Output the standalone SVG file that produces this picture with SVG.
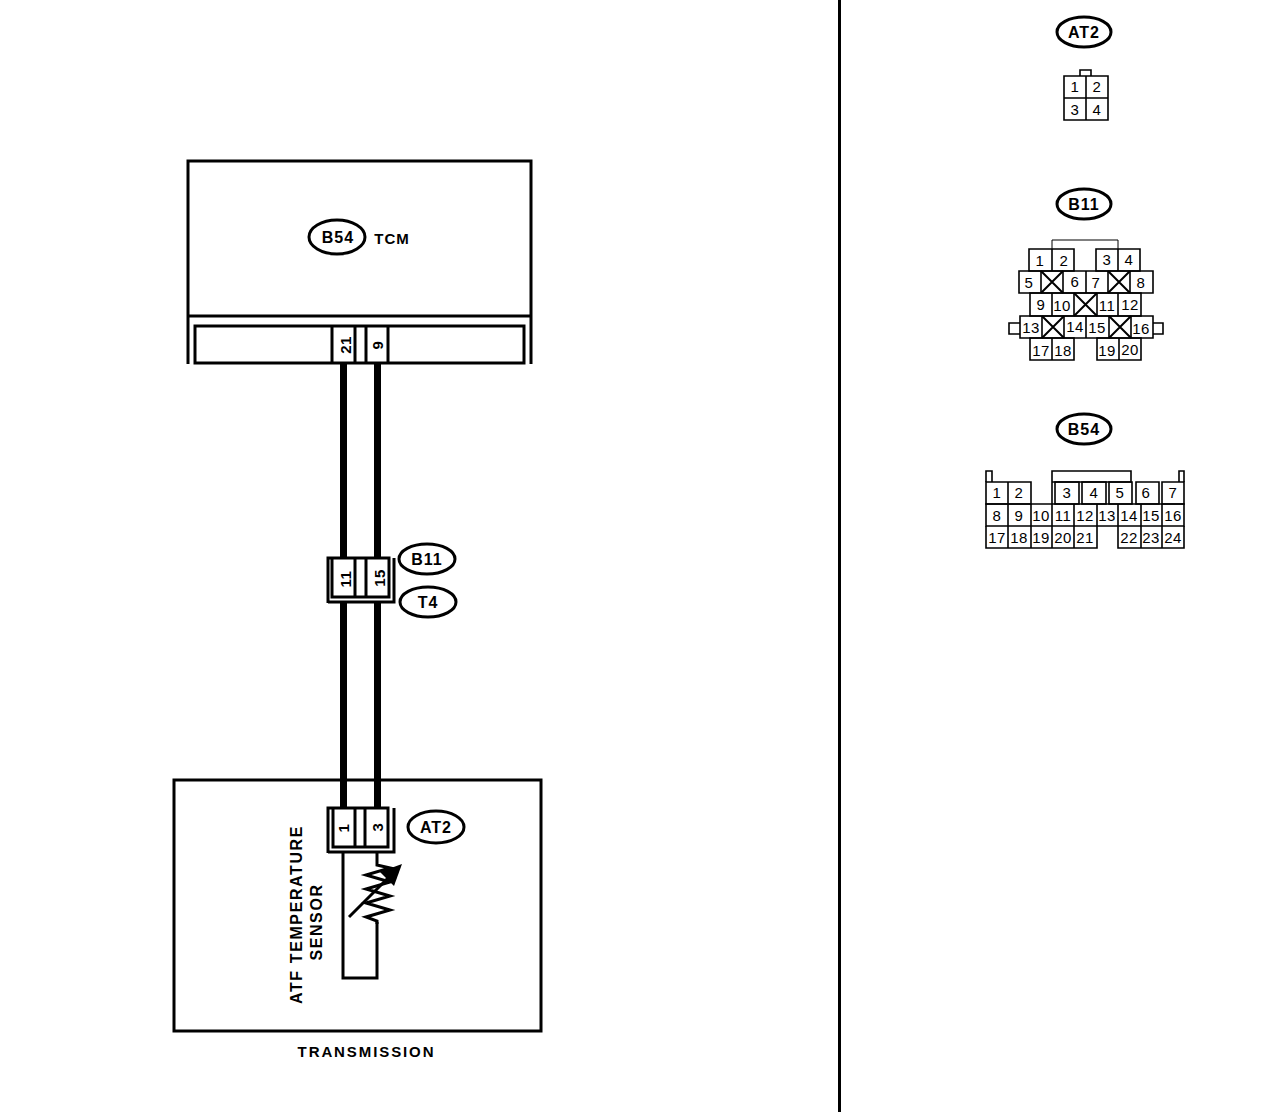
<svg xmlns="http://www.w3.org/2000/svg" width="1264" height="1112" viewBox="0 0 1264 1112">
<style>
text{font-family:"Liberation Sans",Arial,sans-serif;fill:#000;text-anchor:middle}
.f{fill:none;stroke:#000;stroke-width:3}
.h{fill:none;stroke:#000;stroke-width:1}
.e{fill:#fff;stroke:#000;stroke-width:3}
.w{fill:none;stroke:#000;stroke-width:7}
.l{font-size:16px;font-weight:bold;letter-spacing:1px}
.n{font-size:15px;letter-spacing:.5px}
.p{font-size:15px;font-weight:bold;letter-spacing:.5px}
.r{font-size:16px;font-weight:bold;letter-spacing:1.6px}
.c{fill:none;stroke:#000;stroke-width:1.6}
.x{fill:none;stroke:#000;stroke-width:2}
</style>
<rect width="1264" height="1112" fill="#fff"/>
<g id="connectors">
<path class="w" d="M343.500 364V558M377.500 364V558M343.500 601V808M377.500 601V808"/>
<path class="f" d="M343 852V978H377V922"/>
<path class="f" d="M377 852V865L390 868L366 875L390 882L366 889L390 896L366 903L390 910L366 917L377 921V924"/>
<path class="f" d="M349 917L391 875"/>
<path d="M402 864L394 886L387 879L380 872Z"/>
</g>
<g id="tcm">
<path class="f" d="M188 364V161H531V364M188 316H531"/>
<rect class="f" x="195" y="326" width="329" height="37"/>
<path class="f" d="M332 326V363M355 326V363M366 326V363M388 326V363"/>
<text class="p" transform="translate(351 345) rotate(-90)">21</text>
<text class="p" transform="translate(383 345) rotate(-90)">9</text>
<ellipse class="e" cx="337" cy="237" rx="28" ry="17"/>
<text class="l" x="338" y="243">B54</text>
<text class="p" x="392" y="244" style="letter-spacing:1px">TCM</text>
</g>
<g id="joint">
<path class="f" d="M328 603V558H389V597H332V558M328 602H394V558M355 558V597M366 558V597"/>
<text class="p" transform="translate(351 579) rotate(-90)">11</text>
<text class="p" transform="translate(385 578) rotate(-90)">15</text>
<ellipse class="e" cx="427" cy="559" rx="28" ry="15"/>
<text class="l" x="427" y="565">B11</text>
<ellipse class="e" cx="428" cy="602" rx="28" ry="15"/>
<text class="l" x="428" y="608">T4</text>
</g>
<g id="transmission">
<rect class="f" x="174" y="780" width="367" height="251"/>
<path class="f" d="M328 853V808H388V847H333V808M328 852H394V808M355 808V847M365 808V847"/>
<text class="p" transform="translate(349 828) rotate(-90)">1</text>
<text class="p" transform="translate(383 827) rotate(-90)">3</text>
<ellipse class="e" cx="436" cy="827" rx="28" ry="16"/>
<text class="l" x="436" y="833">AT2</text>
<text class="r" transform="translate(302 914.500) rotate(-90)">ATF TEMPERATURE</text>
<text class="r" transform="translate(322 922) rotate(-90)">SENSOR</text>
<text class="p" x="366.500" y="1057" style="letter-spacing:1.9px">TRANSMISSION</text>
</g>
<path id="divider" d="M839.500 0V1112" fill="none" stroke="#000" stroke-width="3"/>
<g id="pinout-at2">
<ellipse class="e" cx="1084" cy="32" rx="27" ry="15"/>
<text class="l" x="1084" y="38">AT2</text>
<path class="c" d="M1080 76V70H1091V76"/>
<path class="c" d="M1064 76H1108V120H1064ZM1086 76V120M1064 98H1108"/>
<g class="n">
<text x="1075" y="92">1</text><text x="1097" y="92">2</text><text x="1075" y="115">3</text><text x="1097" y="115">4</text>
</g>
</g>
<g id="pinout-b11">
<ellipse class="e" cx="1084" cy="204" rx="27" ry="15"/>
<text class="l" x="1084" y="210">B11</text>
<path class="h" d="M1052 249V240H1118V249"/>
<path class="c" d="M1029 249H1074V271H1029ZM1052 249V271M1096 249H1140V271H1096ZM1118 249V271"/>
<path class="c" d="M1019 271H1153V293H1019ZM1041 271V293M1063 271V293M1086 271V293M1108 271V293M1130 271V293"/>
<path class="x" d="M1041 271L1063 293M1063 271L1041 293M1108 271L1130 293M1130 271L1108 293"/>
<path class="c" d="M1030 293H1141V316H1030ZM1052 293V316M1074 293V316M1097 293V316M1118 293V316"/>
<path class="x" d="M1074 293L1097 316M1097 293L1074 316"/>
<path class="c" d="M1020 316H1153V338H1020ZM1042 316V338M1064 316V338M1086 316V338M1109 316V338M1131 316V338"/>
<path class="x" d="M1042 316L1064 338M1064 316L1042 338M1109 316L1131 338M1131 316L1109 338"/>
<path class="c" d="M1020 323H1009V334H1020M1153 323H1163V334H1153"/>
<path class="c" d="M1030 338H1074V360H1030ZM1052 338V360M1097 338H1141V360H1097ZM1119 338V360"/>
<g class="n">
<text x="1040" y="266">1</text><text x="1064" y="266">2</text><text x="1107" y="265">3</text><text x="1129" y="265">4</text>
<text x="1029" y="288">5</text><text x="1075" y="287">6</text><text x="1096" y="288">7</text><text x="1141" y="288">8</text>
<text x="1041" y="310">9</text><text x="1062" y="311">10</text><text x="1107" y="311">11</text><text x="1130" y="310">12</text>
<text x="1031" y="333">13</text><text x="1075" y="332">14</text><text x="1097" y="333">15</text><text x="1141" y="334">16</text>
<text x="1041" y="356">17</text><text x="1063" y="356">18</text><text x="1107" y="356">19</text><text x="1130" y="355">20</text>
</g>
</g>
<g id="pinout-b54">
<ellipse class="e" cx="1084" cy="429" rx="27" ry="15"/>
<text class="l" x="1084" y="435">B54</text>
<path class="c" d="M986 482V471H992V482M1179 482V471H1184V482M1052 482V471H1131V482H1052"/>
<path class="c" d="M986 482H1031V504H986ZM1008 482V504M1052 482V504M1055 482H1079V504H1055ZM1082 482H1106V504H1082ZM1109 482H1132V504H1109ZM1136 482H1159V504H1136ZM1162 482H1184V504H1162Z"/>
<path class="c" d="M986 504H1184V526H986ZM1008 504V526M1031 504V526M1052 504V526M1074 504V526M1097 504V526M1118 504V526M1141 504V526M1162 504V526"/>
<path class="c" d="M986 526V548H1097V526M1008 526V548M1031 526V548M1052 526V548M1074 526V548M1118 526V548H1184V526M1141 526V548M1162 526V548"/>
<g class="n">
<text x="997" y="498">1</text><text x="1019" y="498">2</text><text x="1067" y="498">3</text><text x="1094" y="498">4</text><text x="1120" y="498">5</text><text x="1146" y="498">6</text><text x="1173" y="498">7</text>
<text x="997" y="521">8</text><text x="1019" y="521">9</text><text x="1041" y="521">10</text><text x="1063" y="521">11</text><text x="1085" y="521">12</text><text x="1107" y="521">13</text><text x="1129" y="521">14</text><text x="1151" y="521">15</text><text x="1173" y="521">16</text>
<text x="997" y="543">17</text><text x="1019" y="543">18</text><text x="1041" y="543">19</text><text x="1063" y="543">20</text><text x="1085" y="543">21</text><text x="1129" y="543">22</text><text x="1151" y="543">23</text><text x="1173" y="543">24</text>
</g>
</g>
</svg>
